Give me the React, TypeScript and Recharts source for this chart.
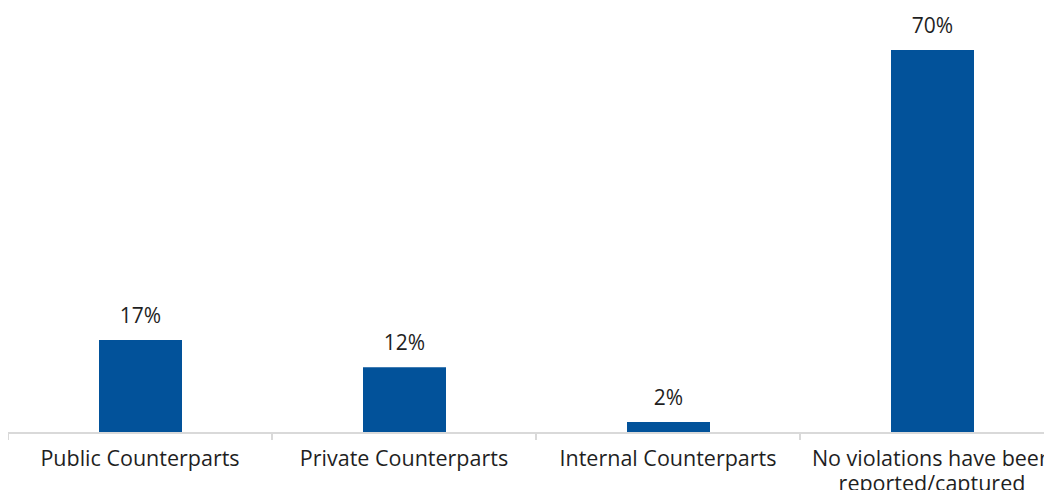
import React from 'react';
import { BarChart, Bar, XAxis, YAxis, LabelList } from 'recharts';

const categories = [
  'Public Counterparts',
  'Private Counterparts',
  'Internal Counterparts',
  'No violations have been reported/captured',
];
const shares = [17, 12, 2, 70];

const data = categories.map((name, i) => ({ name, value: shares[i] }));

const FONT = '"Open Sans", sans-serif';
const BAR_COLOR = '#02529a';
const AXIS_COLOR = '#d9d9d9';

// naive word wrap for axis labels
function wrap(text: string, maxChars: number): string[] {
  const words = text.split(' ');
  const lines: string[] = [];
  let cur = '';
  words.forEach(w => {
    const next = cur ? cur + ' ' + w : w;
    if (next.length > maxChars && cur) {
      lines.push(cur);
      cur = w;
    } else {
      cur = next;
    }
  });
  if (cur) lines.push(cur);
  return lines;
}

const BAND = 264;

function CategoryTick(props: any) {
  const { x, y, payload, index, visibleTicksCount } = props;
  const lines = wrap(String(payload.value), 24);
  const isLast = index === visibleTicksCount - 1;
  return (
    <g>
      <line x1={x - BAND / 2} x2={x - BAND / 2} y1={y} y2={y + 7} stroke={AXIS_COLOR} strokeWidth={2} />
      {isLast && (
        <line x1={x + BAND / 2} x2={x + BAND / 2} y1={y} y2={y + 7} stroke={AXIS_COLOR} strokeWidth={2} />
      )}
      <text x={x} y={y + 33} textAnchor="middle" fill="#1f1f1f" fontSize={21.5} fontFamily={FONT}>
        {lines.map((l, i) => (
          <tspan key={i} x={x} dy={i === 0 ? 0 : 25}>
            {l}
          </tspan>
        ))}
      </text>
    </g>
  );
}

export default function App() {
  return (
    <div style={{ width: 1044, height: 482, overflow: 'hidden' }}>
      <BarChart
        width={1056}
        height={520}
        data={data}
        margin={{ top: 42, right: 0, bottom: 35, left: 0 }}
        barCategoryGap={0}
      >
        <XAxis
          dataKey="name"
          interval={0}
          tickLine={false}
          tickSize={0}
          tickMargin={0}
          height={60}
          axisLine={{ stroke: AXIS_COLOR, strokeWidth: 2 }}
          tick={<CategoryTick />}
        />
        <YAxis hide domain={[0, 70]} />
        <Bar dataKey="value" fill={BAR_COLOR} barSize={83} isAnimationActive={false}>
          <LabelList
            dataKey="value"
            position="top"
            offset={17}
            formatter={(v: any) => `${v}%`}
            fill="#1f1f1f"
            fontSize={21}
            fontFamily={FONT}
          />
        </Bar>
      </BarChart>
    </div>
  );
}
